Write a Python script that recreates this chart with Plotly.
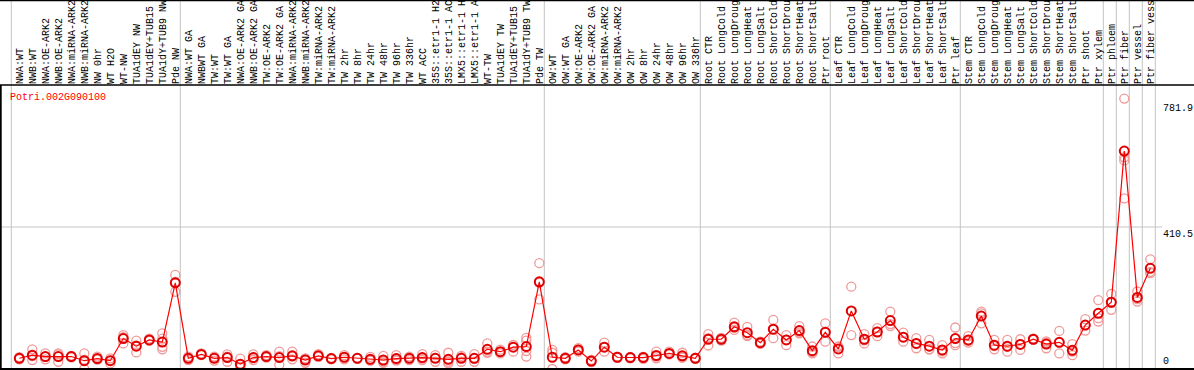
import plotly.graph_objects as go

labels = [
    "NWA:WT", "NWB:WT", "NWA:OE-ARK2", "NWB:OE-ARK2", "NWA:miRNA-ARK2", "NWB:miRNA-ARK2",
    "NW 0hr", "WT H2O", "WT-NW", "TUA1dEY NW", "TUA1dEY+TUB15 NW", "TUA1dY+TUB9 NW", "Pde NW",
    "NWA:WT GA", "NWBWT GA", "TW:WT", "TW:WT GA", "NWA:OE-ARK2 GA", "NWB:OE-ARK2 GA",
    "TW:OE-ARK2", "TW:OE-ARK2 GA", "NWA:miRNA-ARK2", "NWB:miRNA-ARK2", "TW:miRNA-ARK2",
    "TW:miRNA-ARK2", "TW 2hr", "TW 8hr", "TW 24hr", "TW 48hr", "TW 96hr", "TW 336hr",
    "WT ACC", "35S::etr1-1 H2O", "35S::etr1-1 ACC", "LMX5::etr1-1 H2O", "LMX5::etr1-1 ACC",
    "WT-TW", "TUA1dEY TW", "TUA1dEY+TUB15 TW", "TUA1dY+TUB9 TW", "Pde TW",
    "OW:WT", "OW:WT GA", "OW:OE-ARK2", "OW:OE-ARK2 GA", "OW:miRNA-ARK2", "OW:miRNA-ARK2",
    "OW 2hr", "OW 8hr", "OW 24hr", "OW 48hr", "OW 96hr", "OW 336hr",
    "Root CTR", "Root LongCold", "Root LongDrought", "Root LongHeat", "Root LongSalt",
    "Root ShortCold", "Root ShortDrought", "Root ShortHeat", "Root ShortSalt", "Ptr root",
    "Leaf CTR", "Leaf LongCold", "Leaf LongDrought", "Leaf LongHeat", "Leaf LongSalt",
    "Leaf ShortCold", "Leaf ShortDrought", "Leaf ShortHeat", "Leaf ShortSalt", "Ptr leaf",
    "Stem CTR", "Stem LongCold", "Stem LongDrought", "Stem LongHeat", "Stem LongSalt",
    "Stem ShortCold", "Stem ShortDrought", "Stem ShortHeat", "Stem ShortSalt", "Ptr shoot",
    "Ptr xylem", "Ptr phloem", "Ptr fiber", "Ptr vessel", "Ptr fiber vessel",
]

mean_expr = [
    31, 40, 36, 36, 36, 24, 30, 24, 88, 66, 84, 78, 249,
    31, 42, 31, 33, 14, 33, 36, 33, 38, 26, 38, 30, 34, 31, 28, 26, 30, 31,
    33, 31, 28, 31, 31, 57, 50, 63, 65, 252,
    34, 31, 55, 23, 63, 34, 33, 33, 39, 45, 38, 31,
    86, 86, 122, 105, 76, 115, 84, 111, 53, 106,
    58, 168, 86, 107, 140, 92, 74, 66, 55, 88,
    84, 153, 69, 66, 71, 86, 72, 77, 54, 127, 161,
    193, 630, 207, 291,
]

rep_a = [
    28, 57, 45, 45, 34, 45, 36, 31, 98, 82, 88, 103, 272,
    26, 45, 36, 42, 30, 42, 40, 50, 50, 31, 43, 30, 40, 31, 35, 38, 40, 36,
    43, 40, 47, 38, 43, 74, 56, 69, 90, 306,
    55, 31, 60, 23, 76, 34, 33, 29, 50, 50, 47, 31,
    101, 86, 134, 122, 76, 142, 98, 124, 65, 132,
    65, 238, 101, 118, 166, 105, 89, 84, 69, 120,
    95, 166, 84, 84, 86, 88, 80, 110, 72, 144, 199,
    217, 781.9, 224, 317,
]

rep_b = [
    31, 26, 28, 21, 36, 0, 27, 16, 74, 48, 82, 57, 223,
    36, 40, 24, 21, 7, 26, 33, 12, 36, 18, 35, 28, 28, 30, 24, 18, 26, 26,
    26, 21, 16, 21, 21, 50, 45, 50, 82, 201,
    0, 28, 50, 20, 50, 32, 31, 35, 31, 42, 33, 29,
    68, 82, 113, 98, 73, 89, 69, 103, 45, 79,
    45, 98, 74, 95, 124, 79, 60, 57, 45, 69,
    76, 132, 57, 50, 55, 84, 60, 45, 40, 111, 137,
    171, 612, 195, 277,
]

rep_c = [
    34, 37, 35, 42, 38, 27, 28, 25, 92, 68, 82, 64, 252,
    31, 41, 33, 36, 5, 31, 35, 37, 28, 29, 35, 32, 34, 32, 25, 22, 24, 31,
    30, 32, 21, 34, 29, 47, 49, 70, 52, 249,
    47, 34, 55, 26, 63, 36, 35, 35, 36, 43, 34, 33,
    89, 90, 119, 95, 79, 114, 85, 106, 49, 107,
    64, 168, 83, 108, 130, 92, 73, 57, 51, 75,
    81, 161, 66, 64, 72, 86, 76, 76, 50, 126, 147,
    191, 603, 202, 281,
]

rep_d = [None] * 88
rep_d[11] = 88
rep_d[39] = 36
rep_d[85] = 493

group_breaks = [-1, 12, 40, 52, 62, 72, 83, 84, 85, 86, 87]
y_top = 821
y_marks = [0, 410.5, 781.9]
title_text = "Potri.002G090100"

W, H = 1194, 370
T, B = 85, 1
PH = H - T - B
x0_px, step_px = 19.3, 13.0
x_range = [-x0_px / step_px, (W - x0_px) / step_px]

FONT = "Liberation Mono, DejaVu Sans Mono, monospace"

rx, ry = [], []
for rep in (rep_a, rep_b, rep_c, rep_d):
    for i, v in enumerate(rep):
        if v is not None:
            rx.append(i)
            ry.append(v)

fig = go.Figure()
fig.add_trace(go.Scatter(
    x=rx, y=ry, mode="markers",
    marker=dict(symbol="circle-open", size=9, color="#f09a9a", line=dict(width=1.3, color="#f09a9a")),
    hoverinfo="skip", showlegend=False,
))
fig.add_trace(go.Scatter(
    x=list(range(len(mean_expr))), y=mean_expr, mode="lines+markers",
    line=dict(color="#ff0000", width=1.2),
    marker=dict(symbol="circle-open", size=9, color="#e00000", line=dict(width=2, color="#e00000")),
    showlegend=False,
))

shapes = []
for b in group_breaks:
    xb = b + 5.0 / step_px
    shapes.append(dict(type="line", xref="x", yref="paper", x0=xb, x1=xb, y0=0, y1=(H - B) / PH,
                       line=dict(color="#c4c4c4", width=1), layer="below"))
shapes.append(dict(type="line", xref="x", yref="y", x0=x_range[0], x1=(1162 - x0_px) / step_px,
                   y0=y_marks[1], y1=y_marks[1], line=dict(color="#c4c4c4", width=1), layer="below"))
shapes.append(dict(type="line", xref="paper", yref="paper", x0=0, x1=1, y0=1, y1=1,
                   line=dict(color="black", width=1.5)))
shapes.append(dict(type="line", xref="paper", yref="paper", x0=0, x1=1, y0=(H - B) / PH - 0.002, y1=(H - B) / PH - 0.002,
                   line=dict(color="black", width=1.5)))
shapes.append(dict(type="line", xref="paper", yref="paper", x0=0, x1=1, y0=0, y1=0,
                   line=dict(color="black", width=2)))
shapes.append(dict(type="line", xref="paper", yref="paper", x0=0.0006, x1=0.0006, y0=0, y1=1,
                   line=dict(color="black", width=2)))

annotations = [
    dict(text=title_text, xref="paper", yref="paper", x=8 / W, y=(H - B - 97) / PH,
         xanchor="left", yanchor="middle", showarrow=False,
         font=dict(family=FONT, size=10, color="#ff0000")),
    dict(text=str(y_marks[2]), xref="paper", yref="y", x=1161 / W, y=y_marks[2],
         xanchor="left", yanchor="top", yshift=-2, showarrow=False,
         font=dict(family=FONT, size=10, color="black")),
    dict(text=str(y_marks[1]), xref="paper", yref="y", x=1161 / W, y=y_marks[1],
         xanchor="left", yanchor="top", yshift=0, showarrow=False,
         font=dict(family=FONT, size=10, color="black")),
    dict(text=str(y_marks[0]), xref="paper", yref="y", x=1161 / W, y=y_marks[0],
         xanchor="left", yanchor="bottom", yshift=0, showarrow=False,
         font=dict(family=FONT, size=10, color="black")),
]

fig.update_layout(
    template="none",
    width=W, height=H,
    margin=dict(l=0, r=0, t=T, b=B, pad=0),
    paper_bgcolor="white", plot_bgcolor="white",
    showlegend=False,
    shapes=shapes, annotations=annotations,
    xaxis=dict(
        side="top", range=x_range, tickmode="array",
        tickvals=list(range(len(labels))), ticktext=labels,
        tickangle=-90, ticks="", showgrid=False, zeroline=False, showline=False,
        automargin=False, fixedrange=True,
        tickfont=dict(family=FONT, size=10, color="black"),
    ),
    yaxis=dict(
        range=[0, y_top], showgrid=False, zeroline=False, showline=False,
        showticklabels=False, ticks="", automargin=False, fixedrange=True,
    ),
)

fig.write_html("out.html", config={"displayModeBar": False},
               post_script="document.body.style.margin='0';document.body.style.padding='0';")
